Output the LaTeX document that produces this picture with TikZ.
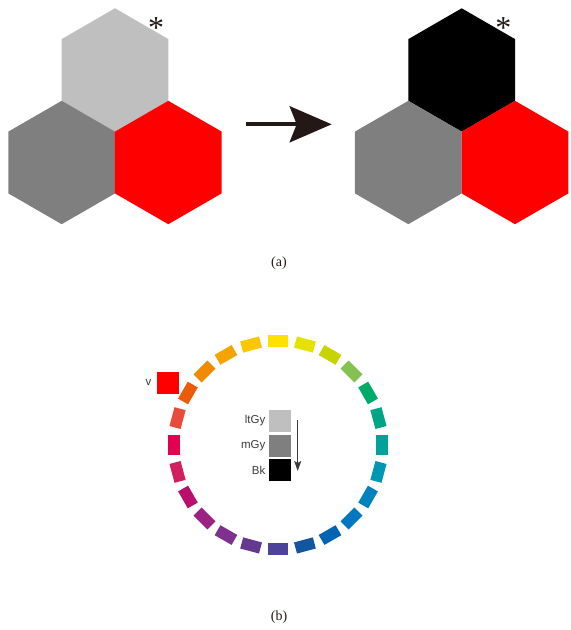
\documentclass[tikz,border=0pt]{standalone}
\usepackage{fontspec}
\setmainfont{Liberation Serif}
\setsansfont{Liberation Sans}
\usetikzlibrary{shapes.geometric,arrows.meta}

% hue ring colours, clockwise from the top
\definecolor{h0}{HTML}{FFE100}
\definecolor{h1}{HTML}{E6E200}
\definecolor{h2}{HTML}{C8D400}
\definecolor{h3}{HTML}{84C150}
\definecolor{h4}{HTML}{00AB6A}
\definecolor{h5}{HTML}{00A486}
\definecolor{h6}{HTML}{00A29A}
\definecolor{h7}{HTML}{0097B4}
\definecolor{h8}{HTML}{0083BC}
\definecolor{h9}{HTML}{0077C0}
\definecolor{h10}{HTML}{0064B2}
\definecolor{h11}{HTML}{1256A0}
\definecolor{h12}{HTML}{4D4398}
\definecolor{h13}{HTML}{65398F}
\definecolor{h14}{HTML}{7E318E}
\definecolor{h15}{HTML}{9B2283}
\definecolor{h16}{HTML}{B70F6B}
\definecolor{h17}{HTML}{D2205E}
\definecolor{h18}{HTML}{E5004F}
\definecolor{h19}{HTML}{E84A3B}
\definecolor{h20}{HTML}{EC5B0A}
\definecolor{h21}{HTML}{F08A00}
\definecolor{h22}{HTML}{F5A300}
\definecolor{h23}{HTML}{FBC700}
\definecolor{ink}{HTML}{231815}
\definecolor{labelgray}{HTML}{3E3A39}
\definecolor{ltgy}{HTML}{BFBFBF}
\definecolor{mgy}{HTML}{7F7F7F}
\definecolor{vred}{HTML}{FF0000}

\tikzset{
  hexcell/.style={regular polygon, regular polygon sides=6, minimum size=123.4pt,
    shape border rotate=30, inner sep=0pt, draw=none, fill=#1},
  star/.style={font=\fontsize{32}{32}\selectfont, text=ink, inner sep=0pt, anchor=base},
  ringseg/.style={rectangle, minimum width=19.5pt, minimum height=11.5pt,
    inner sep=0pt, draw=none, fill=#1},
  swatch/.style={rectangle, minimum width=22pt, minimum height=21.7pt,
    inner sep=0pt, draw=none, fill=#1},
  swlabel/.style={font=\sffamily\fontsize{11.5}{11.5}\selectfont, text=labelgray,
    anchor=east, inner sep=0pt},
  caption/.style={font=\fontsize{14}{14}\selectfont, text=ink, inner sep=0pt},
}

\begin{document}
\begin{tikzpicture}[x=1pt,y=-1pt]
\useasboundingbox (0,0) rectangle (571,630);

% (a) before: three hexagon cells
\node[hexcell=ltgy] (ta) at (115,70) {};
\node[hexcell=mgy]  (la) at (61.7,162.5) {};
\node[hexcell=vred] (ra) at (168.3,162.5) {};
\node[star] (sa) at (156,38) {*};

% (a) after
\node[hexcell=black] (tb) at (461.7,70) {};
\node[hexcell=mgy]   (lb) at (408.3,162.5) {};
\node[hexcell=vred]  (rb) at (515,162.5) {};
\node[star] (sb) at (503.3,38) {*};

% transition arrow
\coordinate (arrS) at (246,124.3);
\coordinate (arrE) at (331.7,124.3);
\draw[ink, line width=4pt, -{Stealth[length=42pt, width=36pt, inset=7pt]}] (arrS) -- (arrE);

\node[caption] (capa) at (279,263) {(a)};

% (b) hue ring of 24 segments
\foreach \i in {0,...,23}{
  \pgfmathsetmacro{\ang}{90-15*\i}
  \node[ringseg=h\i, rotate=\ang-90] (seg\i) at ({278+104*cos(\ang)},{445-104*sin(\ang)}) {};
}

% vivid red sample
\node[swatch=vred, minimum height=22pt] (vsq) at (168,383) {};
\node[swlabel, anchor=center] (vlab) at (148.5,382) {v};

% gray scale swatches
\node[swatch=ltgy]  (lt) at (280,420.8) {};
\node[swatch=mgy]   (mg) at (280,445.8) {};
\node[swatch=black] (bk) at (280,470.2) {};
\node[swlabel] (ltl) at (265.5,420.8) {ltGy};
\node[swlabel] (mgl) at (265.5,445.8) {mGy};
\node[swlabel] (bkl) at (265.5,470.2) {Bk};
\coordinate (gaS) at (297.7,420);
\coordinate (gaE) at (297.7,471);
\draw[labelgray, line width=1.3pt, -{Stealth[length=10pt, width=7pt, inset=2pt]}] (gaS) -- (gaE);

\node[caption] (capb) at (279,617) {(b)};
\end{tikzpicture}
\end{document}
